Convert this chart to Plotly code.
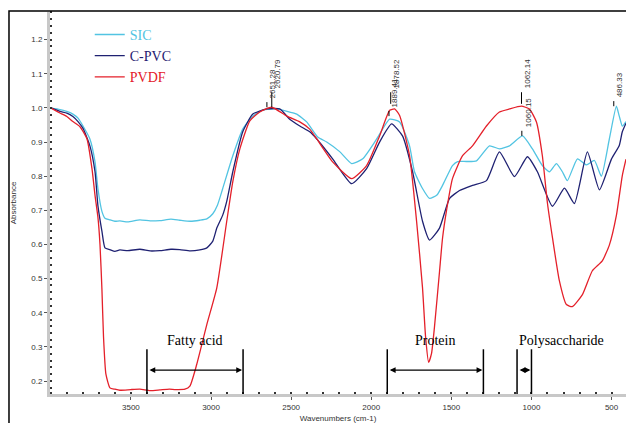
import plotly.graph_objects as go

# ---- spectra (wavenumber in cm-1, absorbance) ----
sic_wn = [4000, 3943, 3900, 3862, 3830, 3799, 3756, 3724, 3706, 3681, 3662, 3631, 3600, 3569, 3520,
          3444, 3380, 3319, 3250, 3195, 3130, 3070, 3026, 2989, 2960, 2927, 2864, 2802, 2739, 2677,
          2590, 2509, 2465, 2403, 2334, 2278, 2197, 2122, 2053, 1966, 1885, 1823, 1761, 1730, 1680,
          1636, 1590, 1555, 1493, 1461, 1405, 1343, 1262, 1200, 1137, 1056, 994, 932, 888, 844, 807,
          776, 713, 657, 607, 564, 514, 470, 452, 433, 410]
sic_abs = [1.0, 0.995, 0.99, 0.982, 0.97, 0.947, 0.909, 0.842, 0.764, 0.697, 0.677, 0.672, 0.668, 0.669, 0.666,
           0.672, 0.669, 0.670, 0.674, 0.671, 0.668, 0.671, 0.675, 0.690, 0.715, 0.764, 0.86, 0.938, 0.976, 0.994,
           0.997, 0.988, 0.982, 0.959, 0.915, 0.90, 0.872, 0.837, 0.851, 0.909, 0.967, 0.959, 0.889, 0.813, 0.764,
           0.735, 0.745, 0.773, 0.831, 0.843, 0.843, 0.845, 0.889, 0.88, 0.889, 0.918, 0.88, 0.831, 0.813, 0.837, 0.813,
           0.787, 0.851, 0.833, 0.846, 0.80, 0.909, 1.005, 0.976, 0.947, 0.96]

cpvc_wn = [4000, 3943, 3900, 3862, 3830, 3799, 3756, 3724, 3706, 3681, 3662, 3631, 3600, 3569, 3520,
           3444, 3380, 3319, 3250, 3195, 3130, 3070, 3026, 2989, 2964, 2927, 2902, 2864, 2802, 2739, 2652,
           2571, 2509, 2446, 2384, 2340, 2241, 2122, 2029, 1948, 1873, 1805, 1742, 1680, 1636, 1574, 1511,
           1449, 1368, 1281, 1200, 1106, 1025, 963, 869, 794, 732, 651, 576, 501, 452, 433, 410]
cpvc_abs = [1.0, 0.99, 0.985, 0.975, 0.96, 0.94, 0.889, 0.813, 0.714, 0.639, 0.59, 0.585, 0.580, 0.584, 0.582,
            0.586, 0.581, 0.582, 0.586, 0.585, 0.581, 0.584, 0.59, 0.61, 0.648, 0.686, 0.726, 0.813, 0.93, 0.982, 0.997,
            0.997, 0.967, 0.947, 0.93, 0.909, 0.851, 0.778, 0.822, 0.90, 0.953, 0.918, 0.813, 0.668, 0.613, 0.648, 0.735,
            0.758, 0.773, 0.787, 0.871, 0.799, 0.857, 0.813, 0.712, 0.765, 0.72, 0.871, 0.76, 0.85, 0.89, 0.93, 0.955]

pvdf_wn = [4000, 3943, 3900, 3862, 3818, 3774, 3743, 3724, 3706, 3693, 3681, 3671, 3656, 3631, 3600,
           3569, 3500, 3444, 3380, 3319, 3260, 3226, 3163, 3132, 3089, 3026, 2964, 2902, 2864, 2820, 2758,
           2696, 2621, 2527, 2446, 2384, 2340, 2241, 2122, 2029, 1948, 1885, 1854, 1823, 1761, 1717, 1680,
           1661, 1642, 1624, 1605, 1574, 1555, 1530, 1493, 1430, 1368, 1281, 1200, 1137, 1063, 1013, 969,
           932, 900, 869, 826, 782, 745, 682, 620, 558, 514, 470, 433, 410]
pvdf_abs = [1.0, 0.985, 0.975, 0.96, 0.945, 0.909, 0.822, 0.744, 0.68, 0.60, 0.47, 0.33, 0.22, 0.18, 0.176,
            0.173, 0.175, 0.176, 0.172, 0.174, 0.176, 0.175, 0.176, 0.185, 0.249, 0.366, 0.473, 0.668, 0.784, 0.88, 0.962,
            0.988, 1.002, 0.976, 0.959, 0.938, 0.909, 0.842, 0.793, 0.831, 0.918, 0.993, 0.997, 0.978, 0.86, 0.668, 0.473,
            0.33, 0.255, 0.28, 0.36, 0.52, 0.619, 0.70, 0.793, 0.86, 0.889, 0.947, 0.988, 0.997, 1.005, 0.997, 0.959,
            0.86, 0.72, 0.62, 0.494, 0.424, 0.418, 0.453, 0.523, 0.552, 0.598, 0.685, 0.802, 0.85]

series_names = ["SIC", "C-PVC", "PVDF"]
series_colors = ["#52c4e2", "#1f2172", "#e4202a"]

# ---- peak picks: position, label, tick base and tick top (absorbance) ----
peak_wn = [2651.28, 2620.79, 1889.41, 1878.52, 1062.14, 1060.15, 486.33]
peak_text = ["2651.28", "2620.79", "1889.41", "1878.52", "1062.14", "1060.15", "486.33"]
peak_base = [1.002, 1.002, 0.976, 1.012, 1.012, 0.918, 1.005]
peak_top = [1.017, 1.046, 0.991, 1.046, 1.046, 0.933, 1.020]

# ---- band assignments ----
band_names = ["Fatty acid", "Protein", "Polysaccharide"]
band_start = [3400, 1900, 1090]
band_end = [2800, 1300, 1000]

Y_MIN, Y_MAX = 0.162, 1.281
BRACKET_TOP = 0.293
ARROW_Y = 0.232
LABEL_Y = 0.318

fig = go.Figure()
for wn, ab, name, col in zip([sic_wn, cpvc_wn, pvdf_wn], [sic_abs, cpvc_abs, pvdf_abs],
                             series_names, series_colors):
    fig.add_trace(go.Scatter(
        x=wn, y=ab, mode="lines",
        line=dict(color=col, width=1.3, shape="spline", smoothing=0.5),
        name=f'<span style="color:{col}">{name}</span>',
    ))

serif = "Liberation Serif, Times New Roman, serif"
sans = "Liberation Sans, Arial, sans-serif"

shapes = []
annotations = []

# peak ticks and rotated labels
for wn, txt, b, t in zip(peak_wn, peak_text, peak_base, peak_top):
    shapes.append(dict(type="line", xref="x", yref="y", x0=wn, x1=wn, y0=b, y1=t,
                       line=dict(color="black", width=1)))
    annotations.append(dict(x=wn, y=t, xref="x", yref="y", text=txt, showarrow=False,
                            textangle=-90, xanchor="center", yanchor="bottom",
                            xshift=6, yshift=2,
                            font=dict(family=sans, size=8, color="#333333")))

# band brackets
for name, s, e in zip(band_names, band_start, band_end):
    for w in (s, e):
        shapes.append(dict(type="line", xref="x", yref="y", x0=w, x1=w, y0=Y_MIN, y1=BRACKET_TOP,
                           line=dict(color="black", width=1.5)))
    annotations.append(dict(x=e, y=ARROW_Y, ax=s, ay=ARROW_Y, xref="x", yref="y",
                            axref="x", ayref="y", text="", showarrow=True,
                            arrowhead=2, startarrowhead=2, arrowside="end+start",
                            arrowsize=0.9, startarrowsize=0.9, arrowwidth=1.3,
                            arrowcolor="black", standoff=1, startstandoff=1))
    if name == "Polysaccharide":
        annotations.append(dict(x=s, y=LABEL_Y, xref="x", yref="y", text=name, showarrow=False,
                                xanchor="left", yanchor="middle",
                                font=dict(family=serif, size=14, color="black")))
    else:
        annotations.append(dict(x=(s + e) / 2, y=LABEL_Y, xref="x", yref="y", text=name,
                                showarrow=False, xanchor="center", yanchor="middle",
                                font=dict(family=serif, size=14, color="black")))

# outer frame around the figure
shapes.append(dict(type="rect", xref="paper", yref="paper", x0=-0.0712, x1=1.2, y0=-0.3, y1=1.0026,
                   line=dict(color="black", width=1.5), fillcolor="rgba(0,0,0,0)", layer="above"))

fig.update_layout(
    width=626, height=423,
    margin=dict(l=50, r=0, t=12, b=26),
    plot_bgcolor="white", paper_bgcolor="white",
    showlegend=True,
    legend=dict(x=0.069, y=0.982, xanchor="left", yanchor="top",
                bgcolor="rgba(0,0,0,0)", font=dict(family=serif, size=14),
                tracegroupgap=0),
    shapes=shapes,
    annotations=annotations,
)

fig.update_xaxes(
    range=[4005, 410], showgrid=False, zeroline=False,
    showline=True, linecolor="#c8c8c8", linewidth=3,
    ticks="outside", ticklen=3, tickcolor="#555555",
    tickvals=[3500, 3000, 2500, 2000, 1500, 1000, 500],
    tickfont=dict(family=sans, size=8, color="#333333"),
    minor=dict(dtick=100, ticks="inside", ticklen=2, tickwidth=1.5, tickcolor="#333333"),
    title=dict(text="Wavenumbers (cm-1)", font=dict(family=sans, size=8, color="#333333"), standoff=6),
)
fig.update_yaxes(
    range=[Y_MIN, Y_MAX], showgrid=False, zeroline=False,
    showline=True, linecolor="#c8c8c8", linewidth=3,
    ticks="outside", ticklen=3, tickcolor="#555555",
    tickvals=[0.2, 0.3, 0.4, 0.5, 0.6, 0.7, 0.8, 0.9, 1.0, 1.1, 1.2], tickformat=".1f",
    tickfont=dict(family=sans, size=8, color="#333333"),
    minor=dict(dtick=0.02, tick0=0.2, ticks="inside", ticklen=2, tickwidth=1.5, tickcolor="#333333"),
    title=dict(text="Absorbance", font=dict(family=sans, size=8, color="#333333"), standoff=14),
)

fig.write_html("out.html")
